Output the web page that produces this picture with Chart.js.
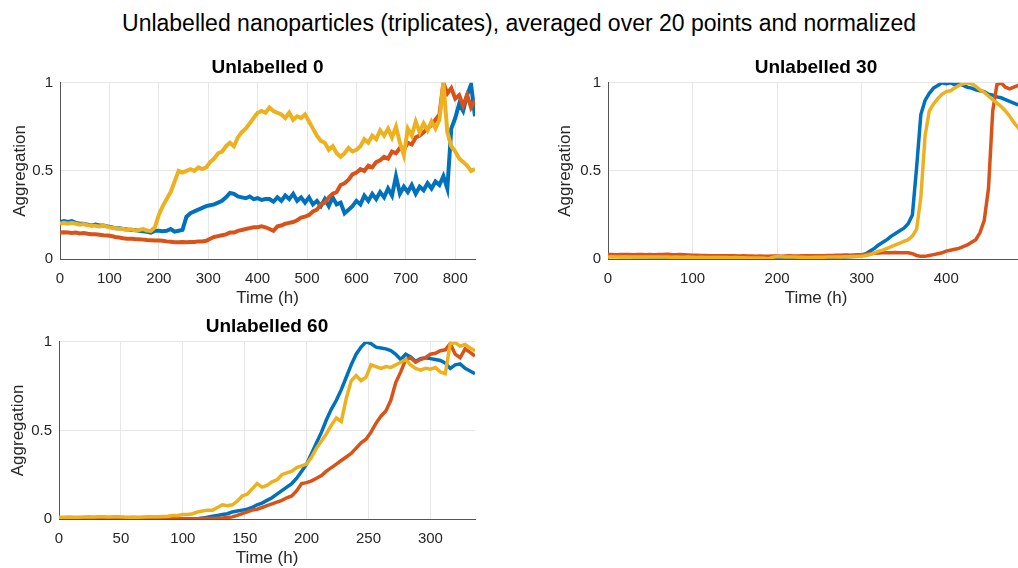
<!DOCTYPE html>
<html>
<head>
<meta charset="utf-8">
<script src="https://cdn.jsdelivr.net/npm/chart.js@4.4.1/dist/chart.umd.min.js"></script>
<style>
html, body { margin: 0; padding: 0; background: #fff; overflow: hidden; width: 1018px; height: 568px; }
#title { position: absolute; left: 0; top: 8px; width: 1038px; text-align: center; line-height: 30px;
         font-size: 23px; font-family: "Liberation Sans", Arial, sans-serif; color: #000; }
canvas { position: absolute; }
</style>
</head>
<body>
<div id="title">Unlabelled nanoparticles (triplicates), averaged over 20 points and normalized</div>
<canvas id="c0" width="535" height="253" style="left:0px;top:56px"></canvas>
<canvas id="c30" width="552" height="253" style="left:540px;top:56px"></canvas>
<canvas id="c60" width="534" height="254" style="left:0px;top:315px"></canvas>
<script>
// colours of the three replicates
var blueC = "#0072BD";
var orangeC = "#D95319";
var yellowC = "#EDB120";

// tick positions
var yTicks = [0, 0.5, 1];
var xTicks0 = [0, 100, 200, 300, 400, 500, 600, 700, 800];
var xTicks30 = [0, 100, 200, 300, 400];
var xTicks60 = [0, 50, 100, 150, 200, 250, 300];

// ---- Unlabelled 0 : one value every 8 h, 0..840 h
var time0 = [];
for (var t = 0; t <= 840; t += 8) time0.push(t);
var blue0 = [
  0.21,0.215,0.21,0.215,0.205,0.20,0.20,0.195,0.19,0.195,
  0.19,0.19,0.185,0.18,0.175,0.175,0.17,0.168,0.165,0.165,
  0.16,0.158,0.155,0.15,0.16,0.16,0.158,0.16,0.17,0.155,
  0.16,0.165,0.24,0.26,0.27,0.28,0.29,0.30,0.305,0.31,
  0.32,0.33,0.35,0.375,0.37,0.355,0.35,0.345,0.355,0.34,
  0.345,0.335,0.34,0.34,0.325,0.35,0.33,0.36,0.34,0.37,
  0.33,0.35,0.32,0.35,0.31,0.33,0.30,0.34,0.30,0.35,
  0.31,0.32,0.26,0.28,0.30,0.33,0.31,0.36,0.33,0.37,
  0.34,0.38,0.35,0.40,0.36,0.47,0.37,0.41,0.38,0.42,
  0.37,0.41,0.39,0.43,0.40,0.44,0.42,0.47,0.40,0.74,
  0.80,0.88,0.84,0.93,0.99,0.81
];
var orange0 = [
  0.150,0.152,0.150,0.148,0.150,0.145,0.147,0.143,0.140,0.140,
  0.138,0.135,0.133,0.130,0.125,0.122,0.118,0.115,0.115,0.113,
  0.112,0.110,0.108,0.107,0.105,0.105,0.103,0.100,0.098,0.095,
  0.095,0.097,0.095,0.097,0.096,0.100,0.100,0.103,0.115,0.125,
  0.130,0.135,0.140,0.150,0.150,0.160,0.165,0.170,0.175,0.180,
  0.180,0.185,0.180,0.170,0.160,0.185,0.190,0.200,0.205,0.210,
  0.220,0.235,0.240,0.250,0.270,0.280,0.310,0.320,0.350,0.370,
  0.380,0.420,0.430,0.450,0.480,0.490,0.510,0.500,0.530,0.520,
  0.550,0.560,0.580,0.570,0.610,0.600,0.630,0.620,0.660,0.650,
  0.690,0.700,0.720,0.740,0.760,0.790,0.820,1.000,0.940,0.970,
  0.910,0.930,0.870,0.930,0.860,0.900,0.820,0.860
];
var yellow0 = [
  0.200,0.205,0.200,0.205,0.200,0.195,0.198,0.192,0.190,0.188,
  0.185,0.190,0.182,0.178,0.175,0.172,0.170,0.165,0.168,0.162,
  0.165,0.170,0.162,0.160,0.180,0.250,0.300,0.340,0.380,0.440,
  0.500,0.490,0.500,0.510,0.500,0.520,0.510,0.520,0.550,0.570,
  0.600,0.610,0.640,0.660,0.640,0.690,0.720,0.740,0.770,0.800,
  0.830,0.840,0.830,0.860,0.840,0.830,0.820,0.800,0.830,0.790,
  0.810,0.800,0.820,0.780,0.740,0.700,0.670,0.660,0.620,0.640,
  0.600,0.580,0.600,0.630,0.610,0.620,0.640,0.680,0.660,0.700,
  0.680,0.730,0.700,0.740,0.690,0.750,0.660,0.590,0.740,0.700,
  0.780,0.720,0.770,0.730,0.780,0.740,0.790,1.000,0.720,0.640,
  0.610,0.570,0.550,0.530,0.500,0.510
];

// ---- Unlabelled 30 : one value every 5 h, 0..490 h
var time30 = [];
for (var t = 0; t <= 490; t += 5) time30.push(t);
var blue30 = [
  0.015,0.016,0.015,0.014,0.015,0.014,0.013,0.014,0.013,0.013,
  0.012,0.013,0.012,0.012,0.011,0.012,0.011,0.011,0.010,0.011,
  0.010,0.010,0.009,0.010,0.009,0.009,0.008,0.009,0.008,0.008,
  0.008,0.008,0.007,0.008,0.007,0.007,0.006,0.007,0.004,0.006,
  0.008,0.008,0.007,0.008,0.007,0.007,0.008,0.007,0.008,0.008,
  0.008,0.009,0.009,0.010,0.010,0.011,0.012,0.013,0.014,0.016,
  0.020,0.030,0.045,0.060,0.080,0.095,0.110,0.130,0.145,0.160,
  0.175,0.200,0.250,0.520,0.820,0.900,0.940,0.970,0.985,1.000,
  0.995,1.000,0.990,0.995,0.985,0.975,0.970,0.960,0.955,0.950,
  0.935,0.930,0.920,0.915,0.905,0.895,0.885,0.875,0.870
];
var orange30 = [
  0.025,0.026,0.024,0.025,0.026,0.025,0.024,0.026,0.025,0.024,
  0.025,0.024,0.026,0.025,0.027,0.025,0.024,0.025,0.024,0.023,
  0.022,0.021,0.020,0.020,0.019,0.019,0.018,0.019,0.018,0.018,
  0.018,0.017,0.018,0.017,0.017,0.016,0.017,0.016,0.016,0.017,
  0.017,0.016,0.017,0.018,0.017,0.017,0.018,0.018,0.019,0.018,
  0.019,0.019,0.020,0.020,0.021,0.021,0.022,0.022,0.023,0.024,
  0.025,0.027,0.030,0.032,0.034,0.035,0.036,0.036,0.037,0.036,
  0.036,0.035,0.030,0.020,0.015,0.015,0.020,0.025,0.030,0.035,
  0.045,0.050,0.055,0.060,0.070,0.080,0.095,0.110,0.150,0.220,
  0.400,0.840,0.990,1.000,0.975,0.965,0.975,0.985,0.990
];
var yellow30 = [
  0.012,0.013,0.012,0.012,0.013,0.012,0.012,0.011,0.012,0.012,
  0.011,0.011,0.012,0.011,0.011,0.010,0.011,0.010,0.010,0.011,
  0.010,0.009,0.010,0.009,0.009,0.008,0.009,0.008,0.008,0.007,
  0.008,0.007,0.007,0.006,0.006,0.005,0.005,0.004,0.002,0.010,
  0.014,0.013,0.012,0.012,0.011,0.010,0.010,0.009,0.009,0.010,
  0.010,0.010,0.011,0.011,0.012,0.012,0.013,0.013,0.014,0.014,
  0.015,0.020,0.025,0.035,0.045,0.050,0.060,0.070,0.080,0.090,
  0.100,0.110,0.130,0.170,0.350,0.700,0.840,0.880,0.910,0.935,
  0.950,0.955,0.970,0.985,0.995,1.000,0.995,0.980,0.960,0.945,
  0.925,0.905,0.885,0.865,0.840,0.810,0.775,0.745,0.715
];

// ---- Unlabelled 60 : one value every 4 h, 0..336 h
var time60 = [];
for (var t = 0; t <= 336; t += 4) time60.push(t);
var blue60 = [
  0.002,0.002,0.001,0.001,0.001,0.001,0.000,0.000,0.000,0.000,
  0.000,0.000,0.000,0.000,0.000,0.000,0.000,0.000,0.000,0.000,
  0.000,0.000,0.000,0.000,0.000,0.000,0.001,0.001,
  0.002,0.005,0.010,0.015,0.020,0.025,0.030,0.040,0.045,0.050,
  0.055,0.065,0.080,0.090,0.105,0.120,0.140,0.160,0.180,0.200,
  0.230,0.270,0.310,0.370,0.430,0.490,0.560,0.620,0.670,0.730,
  0.800,0.870,0.930,0.970,1.000,0.990,0.970,0.965,0.960,0.950,
  0.930,0.900,0.930,0.915,0.890,0.905,0.910,0.905,0.900,0.895,
  0.880,0.850,0.870,0.875,0.850,0.835,0.820
];
var orange60 = [
  0.004,0.004,0.003,0.003,0.004,0.003,0.003,0.004,0.003,0.003,
  0.003,0.003,0.002,0.003,0.002,0.002,0.002,0.002,0.002,0.002,
  0.002,0.002,0.002,0.002,0.002,0.002,0.002,0.002,0.002,0.003,
  0.003,0.003,0.004,
  0.005,0.008,0.012,0.020,0.030,0.040,0.050,0.055,0.065,0.075,
  0.085,0.095,0.105,0.120,0.130,0.160,0.200,0.205,0.215,0.230,
  0.245,0.270,0.290,0.310,0.330,0.350,0.370,0.400,0.430,0.450,
  0.490,0.540,0.580,0.610,0.670,0.770,0.830,0.900,0.910,0.885,
  0.900,0.910,0.930,0.935,0.950,0.955,0.990,0.930,0.910,0.960,
  0.940,0.920
];
var yellow60 = [
  0.010,0.010,0.011,0.010,0.010,0.011,0.012,0.011,0.012,0.012,
  0.011,0.012,0.012,0.011,0.010,0.011,0.010,0.011,0.012,0.012,
  0.013,0.014,
  0.015,0.020,0.020,0.025,0.025,0.030,0.040,0.045,0.050,0.050,
  0.065,0.080,0.075,0.080,0.100,0.130,0.140,0.170,0.200,0.180,
  0.190,0.210,0.220,0.250,0.260,0.270,0.290,0.300,0.310,0.350,
  0.400,0.440,0.480,0.530,0.570,0.550,0.680,0.780,0.810,0.780,
  0.800,0.870,0.860,0.850,0.860,0.855,0.870,0.885,0.900,0.870,
  0.850,0.840,0.850,0.845,0.855,0.830,0.820,0.990,0.995,0.975,
  0.985,0.965,0.950
];

var fontFam = '"Liberation Sans", Arial, sans-serif';
Chart.defaults.font.family = fontFam;

function toPoints(xs, ys) {
    return xs.map(function (x, i) { return { x: x, y: ys[i] }; });
}

function fixedTicks(list) {
    return function (s) { s.ticks = list.map(function (v) { return { value: v }; }); };
}

function makeChart(id, title, time, blue, orange, yellow, xmax, xTicks, sideWidth, yTitlePad, lw) {
    var ctx = document.getElementById(id).getContext("2d");
    var line = function (data, color, order) {
        return {
            data: toPoints(time, data),
            borderColor: color,
            borderWidth: lw,
            pointRadius: 0,
            fill: false,
            tension: 0,
            order: order
        };
    };
    return new Chart(ctx, {
        type: "line",
        data: {
            datasets: [
                line(blue, blueC, 3),
                line(orange, orangeC, 2),
                line(yellow, yellowC, 1)
            ]
        },
        options: {
            responsive: false,
            animation: false,
            devicePixelRatio: 1,
            layout: { padding: 0 },
            plugins: {
                legend: { display: false },
                tooltip: { enabled: false },
                title: {
                    display: true,
                    text: title,
                    color: "#000",
                    font: { size: 19, weight: "bold" },
                    padding: { top: 0, bottom: 4 }
                }
            },
            scales: {
                x: {
                    type: "linear",
                    min: 0,
                    max: xmax,
                    afterBuildTicks: fixedTicks(xTicks),
                    ticks: { autoSkip: false, maxRotation: 0, padding: 11,
                             color: "#262626", font: { size: 15 },
                             callback: function (v) { return String(v); } },
                    grid: { color: "#e6e6e6", drawTicks: false },
                    border: { color: "#555", width: 1 },
                    title: { display: true, text: "Time (h)", color: "#262626",
                             font: { size: 17 }, padding: { top: 0, bottom: 0 } },
                    afterFit: function (s) { s.height = 50; }
                },
                y: {
                    min: 0,
                    max: 1,
                    afterBuildTicks: fixedTicks(yTicks),
                    ticks: { padding: 7, color: "#262626", font: { size: 15 },
                             callback: function (v) { return String(v); } },
                    grid: { color: "#e6e6e6", drawTicks: false },
                    border: { color: "#555", width: 1 },
                    title: { display: true, text: "Aggregation", color: "#262626",
                             font: { size: 17 }, padding: { top: yTitlePad, bottom: 0 } },
                    afterFit: function (s) { s.width = sideWidth; }
                },
                // empty right-hand axis so the title sits over the plot area
                yRight: {
                    position: "right",
                    min: 0,
                    max: 1,
                    ticks: { display: false },
                    grid: { display: false },
                    border: { display: false },
                    afterFit: function (s) { s.width = sideWidth; }
                }
            }
        }
    });
}

makeChart("c0", "Unlabelled 0", time0, blue0, orange0, yellow0, 840, xTicks0, 60, 10, 4);
makeChart("c30", "Unlabelled 30", time30, blue30, orange30, yellow30, 492, xTicks30, 68, 15, 3.5);
makeChart("c60", "Unlabelled 60", time60, blue60, orange60, yellow60, 336, xTicks60, 59, 8, 3.5);
</script>
</body>
</html>
